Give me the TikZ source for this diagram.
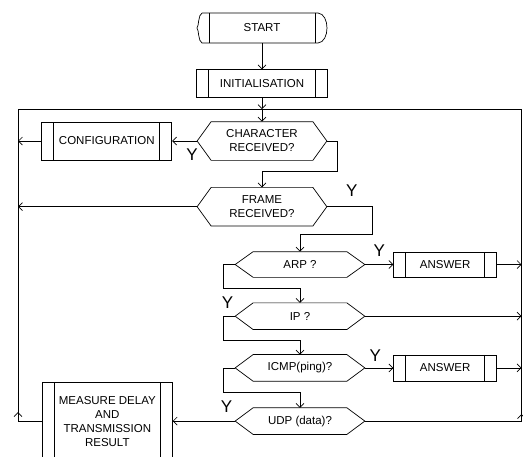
\documentclass[tikz,border=0pt]{standalone}
\usepackage{fontspec}
\setmainfont{Liberation Sans}
\usetikzlibrary{positioning,arrows.meta}

\begin{document}
\begin{tikzpicture}[x=1pt, y=-1pt, line width=0.7pt,
  lbl/.style={font=\fontsize{11.5}{14}\selectfont, align=center, inner sep=0pt},
  sub/.style={lbl, draw, path picture={
    \draw ([xshift=12pt]path picture bounding box.north west) -- ([xshift=12pt]path picture bounding box.south west)
          ([xshift=-12pt]path picture bounding box.north east) -- ([xshift=-12pt]path picture bounding box.south east);}},
  dec/.style={lbl, minimum width=129pt, minimum height=26pt},
  ylbl/.style={font=\fontsize{17}{17}\selectfont, inner sep=0pt},
  arr/.style={-{Straight Barb[length=4pt,width=8pt]}}]
\useasboundingbox (0,0) rectangle (523,456);
\clip (0,0) rectangle (523,456);
\node[lbl, minimum width=105pt, minimum height=30pt] (start) at (262,28) {START};
\draw (202,13) -- (318,13) .. controls (330,14) and (330,42) .. (318,43) -- (202,43)
  .. controls (198,41) and (199,30) .. (197,28) .. controls (199,26) and (198,15) .. (202,13);
\draw (start.north west) -- (start.south west) (start.north east) -- (start.south east);
\node[sub, minimum width=131pt, minimum height=28pt, below=26pt of start] (init) {INITIALISATION};
\node[dec, minimum height=38pt] (chr) at (262,141) {CHARACTER\\RECEIVED?};
\node[sub, minimum width=130pt, minimum height=38pt, left=25pt of chr] (conf) {CONFIGURATION};
\node[dec, minimum height=38pt, below=27pt of chr] (frm) {FRAME\\RECEIVED?};
\node[dec, minimum height=25pt] (arp) at (300,264.5) {ARP ?};
\node[sub, minimum width=103pt, minimum height=25pt, right=28.5pt of arp] (ans1) {ANSWER};
\node[dec, below=25.5pt of arp] (ip) {IP ?};
\node[dec, below=25pt of ip] (icmp) {ICMP(ping)?};
\node[sub, minimum width=103pt, minimum height=26pt, right=28.5pt of icmp] (ans2) {ANSWER};
\node[dec, below=26.5pt of icmp] (udp) {UDP (data)?};
\node[sub, minimum width=130pt, minimum height=78pt, left=62.5pt of udp] (meas) {MEASURE DELAY\\AND\\TRANSMISSION\\RESULT};
% decision outlines
\foreach \nm/\d in {chr/14,frm/14,arp/18,ip/18,icmp/18,udp/18}
  \draw (\nm.west) -- ([xshift=\d pt]\nm.north west) -- ([xshift=-\d pt]\nm.north east) -- (\nm.east)
    -- ([xshift=-\d pt]\nm.south east) -- ([xshift=\d pt]\nm.south west) -- cycle;
% return loop
\coordinate (lft) at (18,109);
\coordinate (rgt) at (521.5,109);
\coordinate (jtop) at (init.south |- lft);
\coordinate (lbot) at (meas.west -| lft);
\coordinate (rbot) at (udp.east -| rgt);
\draw (lbot) -- (lft) -- (rgt) -- (rbot);
\draw[arr] (meas.west) -- (lbot) -- ([yshift=9pt]lbot);
\draw[arr] (udp.east) -- (rbot) -- ([yshift=7pt]rbot);
% flow
\draw[arr] (start) -- (init);
\draw[arr] (init) -- (jtop);
\draw[arr] (jtop) -- (chr);
\draw[arr] (chr.west) -- node[ylbl, pos=0, xshift=-5pt, yshift=-14pt] (ychr) {Y} (conf.east);
\draw[arr] (conf.west) -- (conf.west -| lft);
\draw[arr] (chr.east) -- ++(10,0) |- ([yshift=16pt]frm.north) -- (frm.north);
\draw[arr] (frm.west) -- (frm.west -| lft);
\draw[arr] (frm.east) -- node[ylbl, pos=0, xshift=25pt, yshift=16.5pt] (yfrm) {Y} ++(45,0) |- ([yshift=17pt]arp.north) -- (arp.north);
\draw[arr] (arp.east) -- node[ylbl, pos=0, xshift=14.5pt, yshift=13.5pt] (yarp) {Y} (ans1.west);
\draw[arr] (ans1.east) -- (ans1.east -| rgt);
\draw[arr] (arp.west) -- ++(-11.5,0) |- ([yshift=15pt]ip.north) -- (ip.north);
\draw[arr] (ip.east) -- (ip.east -| rgt);
\draw[arr] (ip.west) -- node[ylbl, pos=0, xshift=-7.5pt, yshift=13.5pt] (yip) {Y} ++(-11.5,0) |- ([yshift=14.5pt]icmp.north) -- (icmp.north);
\draw[arr] (icmp.east) -- node[ylbl, pos=0, xshift=10.5pt, yshift=12.5pt] (yicmp) {Y} (ans2.west);
\draw[arr] (ans2.east) -- (ans2.east -| rgt);
\draw[arr] (icmp.west) -- ++(-11.5,0) |- ([yshift=15pt]udp.north) -- (udp.north);
\draw[arr] (udp.west) -- node[ylbl, pos=0, xshift=-8.5pt, yshift=14pt] (yudp) {Y} (meas.east);
\end{tikzpicture}
\end{document}
